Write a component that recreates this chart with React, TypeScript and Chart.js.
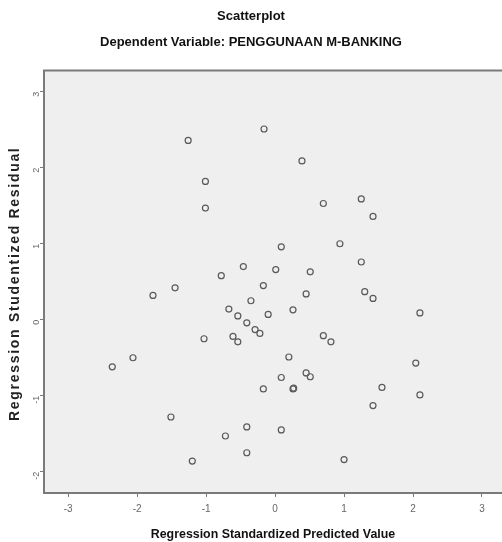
import React, { useEffect, useRef } from "react";
import { Chart, registerables } from "chart.js";

Chart.register(...registerables);

const titleText = "Scatterplot";
const subtitleText = "Dependent Variable: PENGGUNAAN M-BANKING";
const xAxisTitle = "Regression Standardized Predicted Value";
const yAxisTitle = "Regression Studentized Residual";

const predictedValues = [
  -1.26, -0.16, 0.39, -1.01, -1.01, 0.7, 1.25, 1.42, 0.09, 0.94, 1.25, -0.46, 0.01, 0.51,
  -0.78, -0.17, -1.45, -1.77, 0.45, 1.3, 1.42, -0.35, 0.26, 2.1, -0.67, -0.54, -0.41,
  -0.1, -0.29, -0.22, -1.03, -0.61, -0.54, 0.7, 0.81, 0.2, 2.04, -2.06, -2.36, 0.09,
  0.45, 0.51, -0.17, 0.26, 0.27, 1.55, 2.1, 1.42, -1.51, -0.41, 0.09, -0.72, -0.41,
  -1.2, 1.0,
];
const residualValues = [
  2.36, 2.51, 2.09, 1.82, 1.47, 1.53, 1.59, 1.36, 0.96, 1.0, 0.76, 0.7, 0.66, 0.63,
  0.58, 0.45, 0.42, 0.32, 0.34, 0.37, 0.28, 0.25, 0.13, 0.09, 0.14, 0.05, -0.04,
  0.07, -0.13, -0.18, -0.25, -0.22, -0.29, -0.21, -0.29, -0.49, -0.57, -0.5, -0.62, -0.76,
  -0.7, -0.75, -0.91, -0.91, -0.9, -0.89, -0.99, -1.13, -1.28, -1.41, -1.45, -1.53, -1.75,
  -1.86, -1.84,
];

const X_MIN = -3.35;
const X_MAX = 3.29;
const Y_MIN = -2.28;
const Y_MAX = 3.28;

const frameColor = "#7a7a7a";

const framePlugin = {
  id: "frame",
  beforeDatasetsDraw(chart: any) {
    const { ctx, chartArea } = chart;
    ctx.save();
    ctx.fillStyle = "#efefef";
    ctx.fillRect(chartArea.left, chartArea.top, chartArea.right - chartArea.left, chartArea.bottom - chartArea.top);
    ctx.restore();
  },
  afterDatasetsDraw(chart: any) {
    const { ctx, chartArea } = chart;
    ctx.save();
    ctx.strokeStyle = frameColor;
    ctx.lineWidth = 2;
    ctx.beginPath();
    ctx.moveTo(chartArea.right + 2, chartArea.top);
    ctx.lineTo(chartArea.left, chartArea.top);
    ctx.lineTo(chartArea.left, chartArea.bottom);
    ctx.lineTo(chartArea.right + 2, chartArea.bottom);
    ctx.stroke();
    ctx.restore();
  },
  afterDraw(chart: any) {
    const { ctx, chartArea } = chart;
    ctx.save();
    ctx.translate(15, (chartArea.top + chartArea.bottom) / 2 + 2);
    ctx.rotate(-Math.PI / 2);
    ctx.fillStyle = "#222";
    ctx.font = "bold 14px 'Liberation Sans', Arial, sans-serif";
    (ctx as any).letterSpacing = "1.7px";
    ctx.textAlign = "center";
    ctx.textBaseline = "middle";
    ctx.fillText(yAxisTitle, 0, 0);
    ctx.restore();
  },
};

export default function App() {
  const ref = useRef<HTMLCanvasElement>(null);
  useEffect(() => {
    if (!ref.current) return;
    const data = predictedValues.map((x, i) => ({ x, y: residualValues[i] }));
    const narrow = "'Liberation Sans Narrow', 'Liberation Sans', Arial, sans-serif";
    const chart = new Chart(ref.current, {
      type: "scatter",
      data: {
        datasets: [
          {
            data,
            pointStyle: "circle",
            pointRadius: 3,
            pointBorderWidth: 1.2,
            pointBorderColor: "#5a5a5a",
            pointBackgroundColor: "rgba(0,0,0,0)",
          },
        ],
      },
      plugins: [framePlugin],
      options: {
        animation: false,
        responsive: false,
        devicePixelRatio: 1,
        layout: { autoPadding: false, padding: { left: 0, right: 0, top: 0, bottom: 0 } },
        plugins: {
          legend: { display: false },
          tooltip: { enabled: false },
          title: {
            display: true,
            text: titleText,
            color: "#111",
            font: { family: narrow, weight: "bold", size: 13 },
            padding: { top: 9, bottom: 3 },
          },
          subtitle: {
            display: true,
            text: subtitleText,
            color: "#111",
            font: { family: narrow, weight: "bold", size: 13 },
            padding: { top: 7, bottom: 20.3 },
          },
        },
        scales: {
          x: {
            type: "linear",
            min: X_MIN,
            max: X_MAX,
            ticks: {
              stepSize: 1,
              includeBounds: false,
              color: "#666",
              font: { family: "'Liberation Sans', Arial", size: 10 },
              padding: 6,
              maxRotation: 0,
              minRotation: 0,
            },
            grid: { drawOnChartArea: false, drawTicks: true, tickLength: 4, color: "#777" },
            border: { display: false },
            title: {
              display: true,
              text: xAxisTitle,
              color: "#111",
              font: { family: narrow, weight: "bold", size: 12.4 },
              padding: { top: 2, bottom: 0 },
            },
            afterFit: (s: any) => {
              s.height = 49;
              s.paddingLeft = 0;
              s.paddingRight = 0;
            },
          },
          y: {
            type: "linear",
            min: Y_MIN,
            max: Y_MAX,
            ticks: {
              stepSize: 1,
              includeBounds: false,
              color: "#666",
              font: { family: "'Liberation Sans', Arial", size: 9 },
              padding: 3,
              minRotation: 90,
              maxRotation: 90,
            },
            grid: { drawOnChartArea: false, drawTicks: true, tickLength: 4, color: "#777" },
            border: { display: false },
            title: { display: false },
            afterFit: (s: any) => {
              s.width = 44;
              s.paddingTop = 0;
              s.paddingBottom = 0;
            },
          },
        },
      },
    });
    return () => chart.destroy();
  }, []);
  return (
    <canvas
      ref={ref}
      width={502}
      height={542}
      style={{ position: "fixed", left: 0, top: 0, width: 502, height: 542, background: "#fff" }}
    />
  );
}
